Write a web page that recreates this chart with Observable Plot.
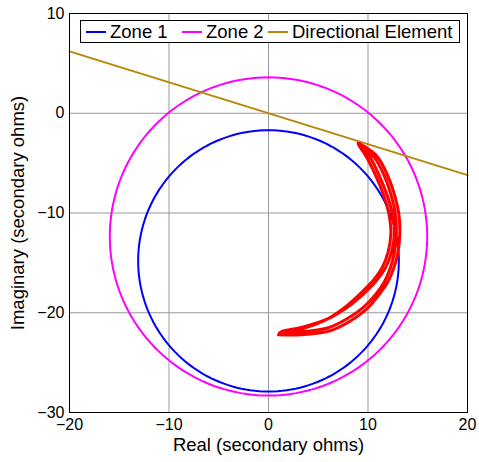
<!DOCTYPE html>
<html>
<head>
<meta charset="utf-8">
<script src="https://cdn.jsdelivr.net/npm/d3@7"></script>
<script src="https://cdn.jsdelivr.net/npm/@observablehq/plot@0.6"></script>
<style>
  html, body { margin: 0; padding: 0; background: #fff; }
  #wrap { position: relative; width: 479px; height: 462px; font-family: "Liberation Sans", Arial, sans-serif; }
  #legend { position: absolute; left: 80px; top: 20px; width: 378px; height: 21px; border: 1px solid #000; background: #fff;
            font-size: 18.5px; color: #000; }
  .item { position: absolute; top: 0; height: 21px; line-height: 21px; white-space: nowrap; }
  .sw { position: absolute; top: 10px; height: 2px; width: 20px; }
</style>
</head>
<body>
<div id="wrap"></div>
<script>
// ---- data ----
const xTicks = [-20, -10, 0, 10, 20];
const yTicks = [-30, -20, -10, 0, 10];

const zoneNames = ["Zone 1", "Zone 2"];
const zoneColors = ["#0000ff", "#ff00ff"];
const zoneCenterX = [0, 0];
const zoneCenterY = [-14.8, -12.35];
const zoneRadius = [13.1, 15.95];

const dirX = [-20, 20];
const dirY = [6.2, -6.2];

// fault impedance trajectory
const trajX = [1.0, 3.3, 6.2, 8.1, 9.9, 11.1, 12.0, 12.6, 13.0, 13.2, 13.1, 12.7, 12.0, 10.9, 9.0,
               9.3, 10.2, 11.15, 11.95, 12.45, 12.65, 12.35, 11.75, 10.75, 9.45, 7.85, 6.0, 3.6, 1.3,
               3.3, 6.0, 7.9, 9.6, 10.75, 11.65, 12.25, 12.65, 12.85, 12.75, 12.35, 11.65, 10.6, 9.2,
               9.0, 9.8, 10.8, 11.6, 12.1, 12.3, 12.0, 11.4, 10.4, 9.1, 7.5, 5.6, 3.4, 1.1];
const trajY = [-22.2, -22.2, -21.8, -20.9, -19.6, -18.2, -16.9, -15.5, -14.0, -12.0, -10.1, -8.3, -6.3, -4.3, -3.0,
               -3.4, -4.4, -6.3, -8.3, -10.1, -12.0, -14.0, -15.5, -16.9, -18.2, -19.5, -20.6, -21.4, -21.9,
               -21.9, -21.5, -20.6, -19.4, -18.2, -16.9, -15.5, -14.0, -12.0, -10.1, -8.3, -6.3, -4.4, -3.3,
               -3.1, -4.3, -6.3, -8.3, -10.1, -12.0, -14.0, -15.5, -16.9, -18.2, -19.6, -20.8, -21.6, -22.0];

const legendNames = ["Zone 1", "Zone 2", "Directional Element"];
const legendColors = ["#0000ff", "#ff00ff", "#b8860b"];

// ---- build tables ----
const circlePts = [];
zoneNames.forEach((name, i) => {
  d3.range(0, 361, 2).forEach(a => {
    const t = a * Math.PI / 180;
    circlePts.push({zone: name, x: zoneCenterX[i] + zoneRadius[i] * Math.cos(t), y: zoneCenterY[i] + zoneRadius[i] * Math.sin(t)});
  });
});
const dirPts = dirX.map((x, i) => ({x, y: dirY[i]}));
const traj = trajX.map((x, i) => ({x, y: trajY[i]}));

const chart = Plot.plot({
  width: 479, height: 462,
  marginLeft: 69, marginRight: 12, marginTop: 13, marginBottom: 50,
  style: {fontFamily: "'Liberation Sans', Arial, sans-serif", fontSize: "16px", color: "#000", background: "#fff", overflow: "visible"},
  x: {domain: [-20, 20]},
  y: {domain: [-30, 10]},
  color: {domain: zoneNames, range: zoneColors},
  marks: [
    Plot.gridX(xTicks, {stroke: "#999", strokeOpacity: 1, strokeWidth: 1}),
    Plot.gridY(yTicks, {stroke: "#999", strokeOpacity: 1, strokeWidth: 1}),
    Plot.line(circlePts, {x: "x", y: "y", z: "zone", stroke: "zone", strokeWidth: 2}),
    Plot.line(dirPts, {x: "x", y: "y", stroke: legendColors[2], strokeWidth: 2}),
    Plot.line(traj, {x: "x", y: "y", stroke: "#ff0000", strokeWidth: 3, curve: "catmull-rom"}),
    Plot.frame({stroke: "#000", strokeWidth: 1}),
    Plot.axisX(xTicks, {tickSize: 0, tickPadding: 6, label: null, fontSize: 16}),
    Plot.axisY(yTicks, {tickSize: 0, tickPadding: 5, label: null, fontSize: 16}),
    Plot.text(["Real (secondary ohms)"], {frameAnchor: "bottom", dy: 38, fontSize: 18.5, fill: "#000", textAnchor: "middle"}),
    Plot.text(["Imaginary (secondary ohms)"], {frameAnchor: "left", dx: -51, rotate: -90, fontSize: 18.5, fill: "#000", textAnchor: "middle"})
  ]
});

const wrap = document.getElementById("wrap");
wrap.appendChild(chart);

// legend (inside plot, top)
const legend = document.createElement("div");
legend.id = "legend";
const itemLefts = [5, 101, 187];
legendNames.forEach((name, i) => {
  const it = document.createElement("div");
  it.className = "item";
  it.style.left = itemLefts[i] + "px";
  const sw = document.createElement("span");
  sw.className = "sw";
  sw.style.left = "0px";
  sw.style.background = legendColors[i];
  const tx = document.createElement("span");
  tx.textContent = name;
  tx.style.marginLeft = "24px";
  it.appendChild(sw);
  it.appendChild(tx);
  legend.appendChild(it);
});
wrap.appendChild(legend);
</script>
</body>
</html>
